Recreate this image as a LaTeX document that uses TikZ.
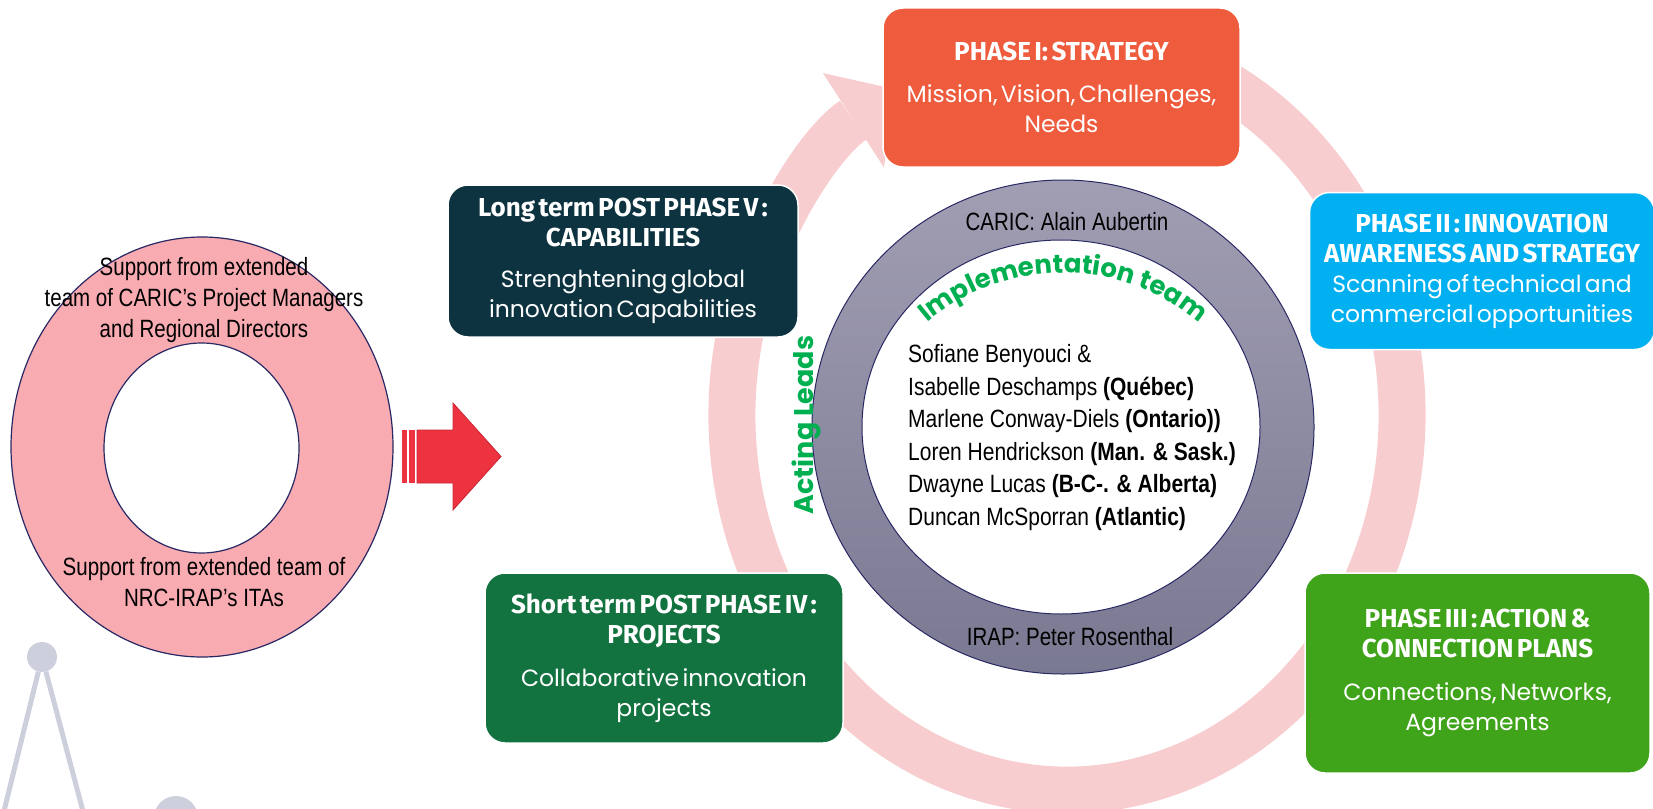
\documentclass[tikz,border=0pt]{standalone}
\usepackage{fontspec}
\setmainfont{Poppins}
\newfontfamily\narrowfont[FakeStretch=0.82]{Liberation Sans}
\newfontfamily\listfont[FakeStretch=0.84]{Liberation Sans}
\newfontfamily\headfont{Fira Sans}
\newfontfamily\bodyfont{Poppins}
\usetikzlibrary{positioning,calc,shapes.geometric,arrows.meta,decorations.text}
\definecolor{stratred}{RGB}{239,91,61}
\definecolor{awareblue}{RGB}{0,176,240}
\definecolor{actiongreen}{RGB}{64,164,27}
\definecolor{projgreen}{RGB}{19,115,64}
\definecolor{capteal}{RGB}{13,51,64}
\definecolor{cyclepink}{RGB}{248,205,207}
\definecolor{supportpink}{RGB}{248,171,177}
\definecolor{arrowred}{RGB}{237,50,64}
\definecolor{arrowedge}{RGB}{200,40,55}
\definecolor{ringtop}{RGB}{161,158,179}
\definecolor{ringbot}{RGB}{122,121,146}
\definecolor{ringedge}{RGB}{40,40,100}
\definecolor{leadgreen}{RGB}{0,176,80}
\definecolor{decogrey}{RGB}{205,207,221}
\tikzset{
  phase/.style={draw=white,line width=1.5pt,rounded corners=20pt,text=white,align=center,inner sep=0pt},
  ringtext/.style={font=\narrowfont\fontsize{25}{31}\selectfont,align=center,inner sep=0pt},
  leadtext/.style={text=leadgreen,font=\bodyfont\bfseries\fontsize{27}{27}\selectfont,inner sep=0pt},
  hoop/.style={ellipse,draw=ringedge,line width=1.2pt,inner sep=0pt}
}
\newcommand{\phasetext}[3][12pt]{{\headfont\bfseries\fontsize{26}{30}\selectfont #2\par}\vspace{#1}{\bodyfont\fontsize{23.5}{30}\selectfont #3\par}}
\newcommand{\implfont}{\bodyfont\bfseries\fontsize{26}{26}\selectfont}

\begin{document}
\begin{tikzpicture}[x=1pt,y=1pt]
  \useasboundingbox (0,0) rectangle (1653,-808);
  \clip (0,0) rectangle (1653,-808);
  % cycle arrow behind the phases
  \coordinate (cyc) at (1067,-415);
  \draw[cyclepink,line width=47pt,-{Triangle[length=55pt,width=112pt,line width=0pt]}]
    ($(cyc)+(75:335 and 375)$) arc[start angle=75,end angle=-240,x radius=335,y radius=375];
  % support ring
  \node[hoop,fill=supportpink,minimum width=382pt,minimum height=420pt] (support) at (202,-447) {};
  \node[hoop,fill=white,minimum width=195pt,minimum height=210pt] (supporthole) at (201.5,-448) {};
  \node[ringtext] (caricsupport) at (204,-300) {Support from extended\\team of CARIC’s Project Managers\\and Regional Directors};
  \node[ringtext] (irapsupport) at (204,-582) {Support from extended team of\\NRC-IRAP’s ITAs};
  % big arrow
  \fill[arrowred] (402,-430) rectangle (407,-483);
  \fill[arrowred] (409,-430) rectangle (415,-483);
  \filldraw[fill=arrowred,draw=arrowedge,line width=0.8pt] (417,-430) -- (453,-430) -- (453,-403)
    -- (501,-456.5) -- (453,-510) -- (453,-483) -- (417,-483) -- cycle;
  % decoration
  \node[circle,fill=decogrey,minimum size=30pt,inner sep=0pt] (knot) at (42,-657) {};
  \coordinate (legl) at (3,-815);
  \coordinate (legr) at (84,-815);
  \draw[decogrey,line width=5pt] (knot) -- (legl) (knot) -- (legr);
  \node[circle,fill=decogrey,minimum size=44pt,inner sep=0pt] (knotb) at (176,-818) {};
  % team ring
  \node[hoop,line width=1pt,top color=ringtop,bottom color=ringbot,minimum width=502pt,minimum height=494pt] (team) at (1063,-427) {};
  \node[hoop,line width=1pt,fill=white,minimum width=398pt,minimum height=374pt] (teamhole) at (1061,-427) {};
  \node[ringtext] (caric) at (1067,-222) {CARIC: Alain Aubertin};
  \node[ringtext] (irap) at (1070,-637) {IRAP: Peter Rosenthal};
  \node[ringtext,align=left,anchor=west,font=\listfont\fontsize{25}{32.5}\selectfont] (leadlist) at (908,-437.5)
    {Sofiane Benyouci \&\\
     Isabelle Deschamps \textbf{(Québec)}\\
     Marlene Conway-Diels \textbf{(Ontario))}\\
     Loren Hendrickson \textbf{(Man. \& Sask.)}\\
     Dwayne Lucas \textbf{(B-C-. \& Alberta)}\\
     Duncan McSporran \textbf{(Atlantic)}};
  \node[leadtext,rotate=90] (acting) at (806,-425) {Acting Leads};
  \path[decorate,decoration={text along path,text align=center,text color=leadgreen,
      text={|\implfont|Implementation team}}]
    ($(1063,-483)+(135:210)$) arc[start angle=135,end angle=45,radius=210];
  % phases
  \node[phase,fill=stratred,minimum width=357pt,minimum height=159pt,text width=345pt] (strategy) at (1061.5,-87.5)
    {\phasetext{PHASE I: STRATEGY}{Mission, Vision, Challenges,\\Needs}};
  \node[phase,fill=awareblue,minimum width=345pt,minimum height=157pt,text width=340pt] (awareness) at (1482,-271)
    {\phasetext[0pt]{PHASE II : INNOVATION\\AWARENESS AND STRATEGY}{Scanning of technical and\\commercial opportunities}};
  \node[phase,fill=actiongreen,minimum width=345pt,minimum height=200pt,text width=335pt] (action) at (1477.5,-673)
    {\phasetext[13pt]{PHASE III : ACTION \&\\CONNECTION PLANS}{Connections, Networks,\\Agreements}};
  \node[phase,fill=projgreen,minimum width=358pt,minimum height=170pt,text width=345pt] (projects) at (664,-658)
    {\phasetext[13pt]{Short term POST PHASE IV :\\PROJECTS}{Collaborative innovation\\projects}};
  \node[phase,fill=capteal,minimum width=350pt,minimum height=152pt,text width=345pt] (capabilities) at (623,-261)
    {\phasetext[11pt]{Long term POST PHASE V :\\CAPABILITIES}{Strenghtening global\\innovation Capabilities}};
\end{tikzpicture}
\end{document}
